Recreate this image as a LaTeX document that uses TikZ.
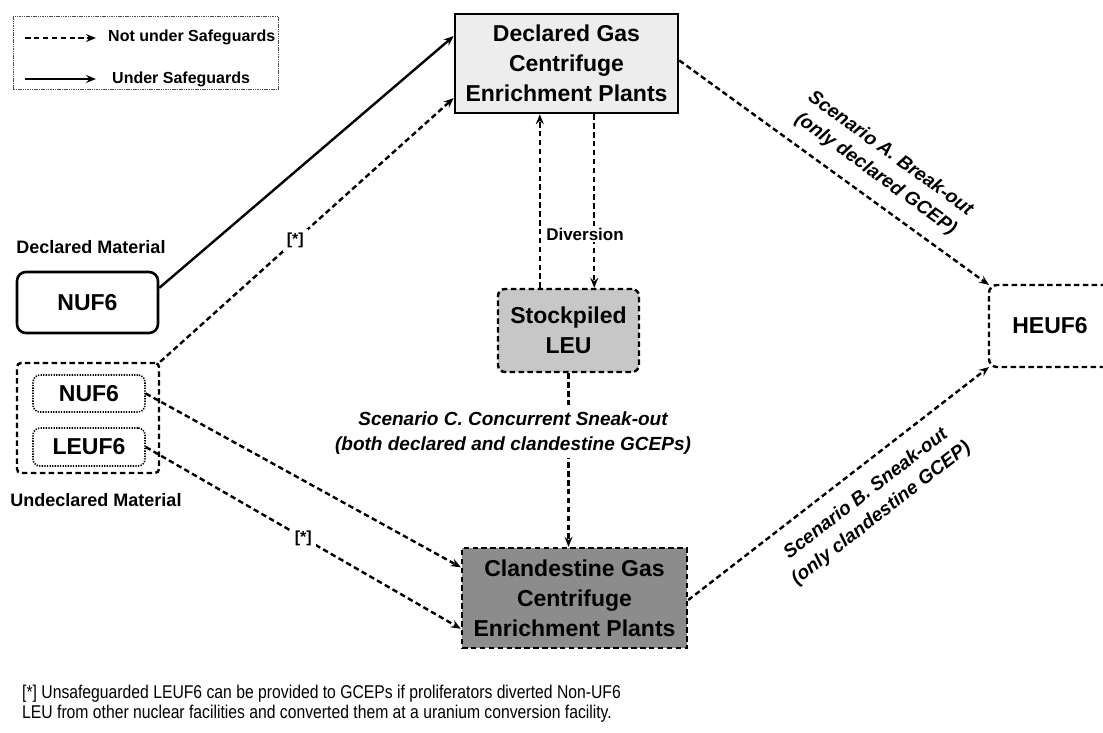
\documentclass[tikz,border=0pt]{standalone}
\usepackage{fontspec}
\setmainfont{Liberation Sans}
\newfontfamily\narrowsans[FakeStretch=0.85]{Liberation Sans}
\usetikzlibrary{arrows.meta,calc}
\begin{document}
\begin{tikzpicture}[x=1pt,y=-1pt,
  txt/.style={inner sep=0pt, font=\bfseries\fontsize{18}{21}\selectfont},
  big/.style={inner sep=0pt, align=center, font=\bfseries\fontsize{23}{30}\selectfont},
  scen/.style={inner sep=0pt, align=center, font=\bfseries\itshape\fontsize{19}{25}\selectfont},
  star/.style={fill=white, inner sep=4pt, font=\bfseries\fontsize{16}{18}\selectfont},
  dline/.style={line width=2.4pt, dash pattern=on 5.5pt off 3.4pt},
  sline/.style={line width=2.4pt},
  tip/.style={-{Stealth[length=10pt,width=8pt,inset=3.5pt]}},
  solidbox/.style={draw, line width=2.6pt},
  dbox/.style={draw, dline},
  dotbox/.style={draw, line width=1.6pt, dash pattern=on 1.3pt off 1.3pt, rounded corners=7pt},
]
\useasboundingbox (0,0) rectangle (1103,733);

% legend
\node[draw=black!70, line width=0.9pt, dash pattern=on 1.5pt off 0.8pt,
      minimum width=265, minimum height=73, inner sep=0pt, anchor=north west] (legend) at (13,16) {};
\coordinate (l1a) at (25,38);
\coordinate (l1b) at (96,38);
\coordinate (l2a) at (25,79);
\coordinate (l2b) at (96,79);
\draw[dline,tip] (l1a) -- (l1b);
\draw[sline,tip] (l2a) -- (l2b);
\node[inner sep=0pt, anchor=west, font=\bfseries\fontsize{16}{18}\selectfont] (l1t) at (108,37) {Not under Safeguards};
\node[inner sep=0pt, anchor=west, font=\bfseries\fontsize{16}{18}\selectfont] (l2t) at (112,79) {Under Safeguards};

% plants and materials
\node[big, solidbox, fill=black!7, minimum width=223, minimum height=99] (decl) at (566.5,63.5)
  {Declared Gas\\Centrifuge\\Enrichment Plants};
\node[txt] (dm) at (91,247) {Declared Material};
\node[big, solidbox, rounded corners=9pt, minimum width=141, minimum height=61] (nufD) at (87.5,302.5) {NUF6};
\node[dbox, rounded corners=4pt, minimum width=142, minimum height=110, inner sep=0pt] (und) at (88,418) {};
\node[big, dotbox, minimum width=112, minimum height=37] (nufU) at (89,393.5) {NUF6};
\node[big, dotbox, minimum width=112, minimum height=38] (leuU) at (89,447) {LEUF6};
\node[txt] (um) at (96,500) {Undeclared Material};

\node[big, dbox, rounded corners=7pt, fill=black!22, minimum width=141, minimum height=83] (stock) at (568.5,330.5)
  {Stockpiled\\LEU};
\node[big, dbox, fill=black!45, minimum width=225, minimum height=100] (cland) at (574.5,598)
  {Clandestine Gas\\Centrifuge\\Enrichment Plants};

\coordinate (heuTL) at (989,285);
\coordinate (heuBL) at (989,367);
\draw[dline, rounded corners=8pt] (1115,285) -- (heuTL) -- (heuBL) -- (1115,367);
\node[big] (heu) at (1050,326) {HEUF6};

% flows of material
\draw[sline,tip] ($(nufD.north east)!0.27!(nufD.south east)$) -- ($(decl.north west)!0.23!(decl.south west)$);
\draw[dline,tip] (und.north east) -- node[star, pos=0.46] (s1) {[*]} ($(decl.north west)!0.84!(decl.south west)$);
\draw[dline,tip] (nufU.east) -- ($(cland.north west)!0.2!(cland.south west)$);
\draw[dline,tip] (leuU.east) -- node[star, pos=0.5] (s2) {[*]} ($(cland.north west)!0.8!(cland.south west)$);

\coordinate (dvUp) at ($(stock.north west)!0.3!(stock.north east)$);
\coordinate (dvDn) at ($(decl.south west)!0.623!(decl.south east)$);
\draw[dline,tip] (dvUp) -- (dvUp |- decl.south);
\draw[dline,tip] (dvDn) -- (dvDn |- stock.north);
\node[fill=white, inner sep=2pt, font=\bfseries\fontsize{17}{20}\selectfont] (div) at (585,234) {Diversion};

\draw[dline,tip] (stock.south) -- (stock.south |- cland.north);

\draw[dline,tip] ($(decl.north east)!0.47!(decl.south east)$) --
  node[scen, sloped, pos=0.59, above=13pt] (scA) {Scenario A. Break-out\\(only declared GCEP)} (heuTL);
\draw[dline,tip] ($(cland.north east)!0.52!(cland.south east)$) --
  node[scen, sloped, pos=0.54, below=15pt] (scB) {Scenario B. Sneak-out\\(only clandestine GCEP)} (heuBL);
\node[scen, fill=white, inner sep=3pt] (scC) at (513,433.5) {Scenario C. Concurrent Sneak-out\\(both declared and clandestine GCEPs)};

% footnote
\node[anchor=north west, inner sep=0pt, align=left, font=\narrowsans\fontsize{18.5}{20}\selectfont] (note) at (22,685)
  {[*] Unsafeguarded LEUF6 can be provided to GCEPs if proliferators diverted Non-UF6\\
   LEU from other nuclear facilities and converted them at a uranium conversion facility.};
\end{tikzpicture}
\end{document}
